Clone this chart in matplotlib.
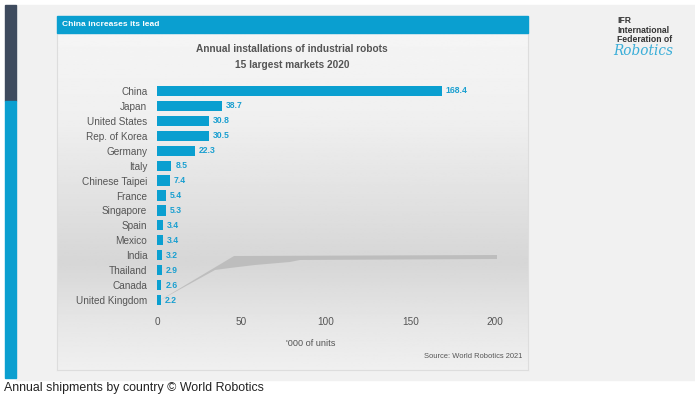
import numpy as np
import matplotlib
matplotlib.use("Agg")
import matplotlib.pyplot as plt
from matplotlib.patches import Rectangle, Polygon

plt.rcParams["font.family"] = ["Liberation Sans", "DejaVu Sans"]

# dados (milhares de unidades, 2020)
paises = ["China", "Japan", "United States", "Rep. of Korea", "Germany", "Italy",
          "Chinese Taipei", "France", "Singapore", "Spain", "Mexico", "India",
          "Thailand", "Canada", "United Kingdom"]
instalacoes = [168.4, 38.7, 30.8, 30.5, 22.3, 8.5, 7.4, 5.4, 5.3, 3.4, 3.4, 3.2,
               2.9, 2.6, 2.2]
rotulos = ["168.4", "38.7", "30.8", "30.5", "22.3", "8.5", "7.4", "5.4", "5.3",
           "3.4", "3.4", "3.2", "2.9", "2.6", "2.2"]
ticks_x = [0, 50, 100, 150, 200]

W, H = 695, 395
AZUL = "#0a9fd0"
CINZA_TXT = "#555555"

fig = plt.figure(figsize=(W / 100, H / 100), dpi=100)
fig.patch.set_facecolor("white")


def px(x, y, w, h):
    """retângulo em pixels (origem no topo) -> fração da figura"""
    return (x / W, 1 - (y + h) / H, w / W, h / H)


def ret(x, y, w, h, cor, z):
    l, b, ww, hh = px(x, y, w, h)
    fig.patches.append(Rectangle((l, b), ww, hh, transform=fig.transFigure,
                                 color=cor, zorder=z))


# fundo do slide e faixa lateral
ret(16, 5, 679, 375, "#f1f1f1", 0)
ret(5, 5, 11, 96, "#3e4b5e", 1)
ret(5, 101, 11, 277, AZUL, 1)

# painel com gradiente
bg = fig.add_axes(px(57, 33, 471, 337), zorder=1)
grad = np.interp(np.linspace(0, 1, 200), [0, 0.25, 0.68, 0.85, 1.0],
                 [0.96, 0.94, 0.84, 0.90, 0.94])
bg.imshow(grad[:, None], aspect="auto", cmap="gray", vmin=0, vmax=1,
          extent=(0, 1, 0, 1))
bg.set_xlim(0, 1); bg.set_ylim(0, 1)
bg.set_xticks([]); bg.set_yticks([])
for s in bg.spines.values():
    s.set_color("#dddddd"); s.set_linewidth(0.8)
# sombra cinza (artefato do original)
sombra = [(157, 302), (234, 256), (497, 255), (497, 259), (300, 260), (290, 262),
          (255, 265), (230, 268), (215, 270)]
bg.add_patch(Polygon([((x - 57) / 471, 1 - (y - 33) / 337) for x, y in sombra],
                     closed=True, color="#b5b5b5", alpha=0.75, lw=0))

# faixa do cabeçalho
ret(57, 16, 471, 17, AZUL, 2)
fig.text(62 / W, 1 - 24.5 / H, "China increases its lead", color="white",
         fontsize=6, fontweight="bold", va="center", ha="left", zorder=3)

# títulos
fig.text(292 / W, 1 - 49 / H, "Annual installations of industrial robots",
         fontsize=7.3, fontweight="bold", color="#555555", ha="center", va="center")
fig.text(292 / W, 1 - 65 / H, "15 largest markets 2020",
         fontsize=7.3, fontweight="bold", color="#555555", ha="center", va="center")

# gráfico de barras
ax = fig.add_axes(px(157, 83.5, 338, 224), zorder=3)
ax.patch.set_alpha(0)
y = np.arange(len(paises))
ax.barh(y, instalacoes, height=0.68, color=AZUL)
for yi, v, r in zip(y, instalacoes, rotulos):
    ax.text(v + 2.3, yi, r, va="center", ha="left", fontsize=6.2,
            fontweight="bold", color="#1a9fd0")
ax.set_xlim(0, 200)
ax.set_ylim(len(paises) - 0.5, -0.5)
ax.set_yticks(y)
ax.set_yticklabels(paises, fontsize=7.2, color=CINZA_TXT)
ax.set_xticks(ticks_x)
ax.set_xticklabels([str(t) for t in ticks_x], fontsize=7.2, color=CINZA_TXT)
ax.tick_params(axis="both", length=0)
ax.tick_params(axis="x", pad=7)
ax.tick_params(axis="y", pad=7)
for s in ax.spines.values():
    s.set_visible(False)

fig.text(311 / W, 1 - 344 / H, "'000 of units", fontsize=6.6, color=CINZA_TXT,
         ha="center", va="center", zorder=4)
fig.text(522 / W, 1 - 357 / H, "Source: World Robotics 2021", fontsize=5.4,
         color=CINZA_TXT, ha="right", va="center", zorder=4)

# logo IFR
fig.text(617 / W, 1 - 16 / H, "IFR\nInternational\nFederation of", fontsize=6.2,
         fontweight="bold", color="#333333", ha="left", va="top",
         linespacing=1.1, zorder=4)
fig.text(613 / W, 1 - 51 / H, "Robotics", fontsize=9.8, style="italic",
         color="#3aaed8", ha="left", va="center", zorder=4,
         family="DejaVu Serif")

# legenda da imagem
fig.text(4 / W, 1 - 387.5 / H, "Annual shipments by country \u00a9 World Robotics",
         fontsize=8.9, color="#222222", ha="left", va="center")

fig.savefig("out.png", dpi=100, facecolor=fig.get_facecolor())
